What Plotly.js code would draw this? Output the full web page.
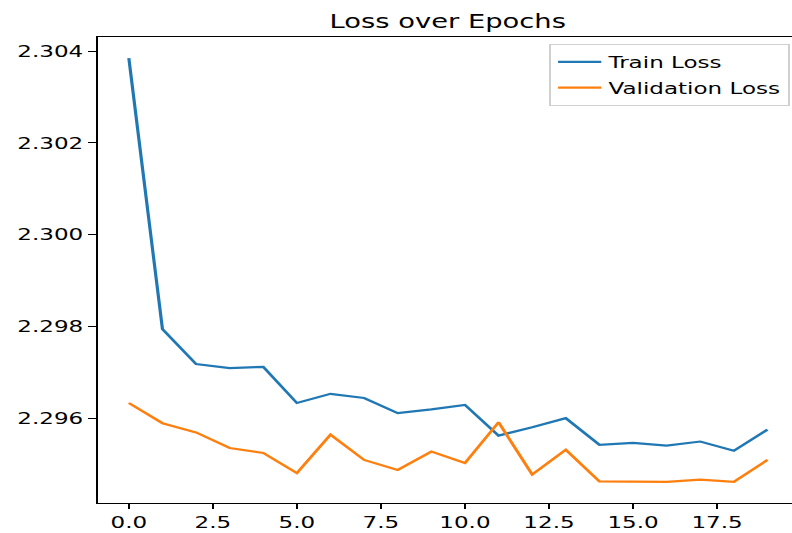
<!DOCTYPE html>
<html>
<head>
<meta charset="utf-8">
<script src="https://cdn.plot.ly/plotly-3.0.1.min.js"></script>
<style>
html, body { margin: 0; padding: 0; background: #fff; overflow: hidden; }
#wrap { width: 792px; height: 533px; overflow: hidden; }
#chart { width: 550px; height: 533px; transform: scaleX(1.44); transform-origin: 0 0; }
</style>
</head>
<body>
<div id="wrap"><div id="chart"></div></div>
<script>
const epochs = [0,1,2,3,4,5,6,7,8,9,10,11,12,13,14,15,16,17,18,19];
const trainLoss = [2.30385,2.29794,2.29718,2.29709,2.29712,2.29633,2.29653,2.29644,2.29611,2.29619,
                   2.29629,2.29562,2.29580,2.29600,2.29542,2.29546,2.29540,2.29549,2.29529,2.29575];
const valLoss = [2.29633,2.29589,2.29569,2.29535,2.29524,2.29480,2.29564,2.29509,2.29487,2.29527,
                 2.29502,2.29591,2.29477,2.29531,2.29462,2.29462,2.29461,2.29466,2.29461,2.29509];
const seriesNames = ["Train Loss", "Validation Loss"];
const titleText = "Loss over Epochs";

const font = "DejaVu Sans, sans-serif";
const traces = [
  {x: epochs, y: trainLoss, type: "scatter", mode: "lines", name: seriesNames[0],
   line: {color: "#1f77b4", width: 2.2}, legendgroup: "a"},
  {x: epochs, y: valLoss, type: "scatter", mode: "lines", name: seriesNames[1],
   line: {color: "#ff7f0e", width: 2.2}, legendgroup: "b"}
];
const layout = {
  width: 550, height: 533,
  margin: {l: 68, r: 0, t: 37, b: 30, pad: 0},
  paper_bgcolor: "#fff", plot_bgcolor: "#fff",
  font: {family: font, color: "#000", size: 16},
  title: {text: titleText, font: {family: font, size: 19, color: "#000"},
          xref: "paper", x: 0.504, xanchor: "center", yref: "container", y: 0.9606, yanchor: "middle"},
  xaxis: {range: [-0.92, 19.73], autorange: false, tickvals: [0,2.5,5,7.5,10,12.5,15,17.5],
          tickformat: ".1f", ticks: "outside", ticklen: 5, tickwidth: 1, tickcolor: "#000",
          showline: true, linecolor: "#000", linewidth: 1, mirror: true, showgrid: false, zeroline: false,
          tickfont: {size: 16, color: "#000", family: font}},
  yaxis: {range: [2.29415, 2.30431], autorange: false, dtick: 0.002, tick0: 2.296,
          tickformat: ".3f", ticks: "outside", ticklen: 6, tickwidth: 1, tickcolor: "#000",
          showline: true, linecolor: "#000", linewidth: 1, showgrid: false, zeroline: false,
          tickfont: {size: 16, color: "#000", family: font}},
  showlegend: true,
  legend: {x: 0.997, xanchor: "right", y: 0.985, yanchor: "top", bgcolor: "rgba(255,255,255,0.8)",
           bordercolor: "#d0d0d0", borderwidth: 1, font: {size: 16, color: "#000", family: font},
           tracegroupgap: 2}
};
Plotly.newPlot("chart", traces, layout, {displayModeBar: false, staticPlot: true});
</script>
</body>
</html>
